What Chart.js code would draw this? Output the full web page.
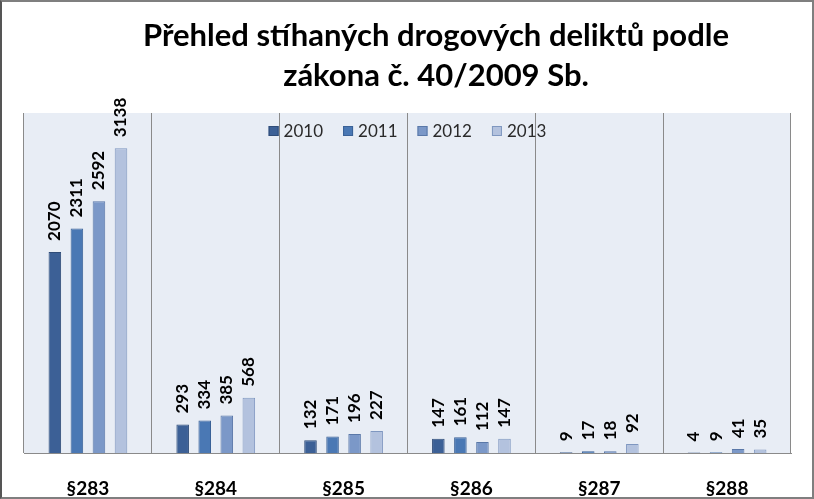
<!DOCTYPE html>
<html>
<head>
<meta charset="utf-8">
<script src="https://cdn.jsdelivr.net/npm/chart.js@4.4.1/dist/chart.umd.min.js"></script>
<style>
  body { margin: 0; background: #fff; }
  #wrap { width: 814px; height: 499px; box-sizing: border-box; border: 2px solid #7f7f7f; border-left-color: #555; }
  canvas { display: block; }
</style>
</head>
<body>
<div id="wrap"><canvas id="chart" width="810" height="495"></canvas></div>
<script>
// data
const categories = ['§283', '§284', '§285', '§286', '§287', '§288'];
const years = ['2010', '2011', '2012', '2013'];
const v2010 = [2070, 293, 132, 147, 9, 4];
const v2011 = [2311, 334, 171, 161, 17, 9];
const v2012 = [2592, 385, 196, 112, 18, 41];
const v2013 = [3138, 568, 227, 147, 92, 35];
const titleLines = ['Přehled stíhaných drogových deliktů podle', 'zákona č. 40/2009 Sb.'];

const colors = ['#3c6096', '#4a78b4', '#7b98c8', '#b3c2de'];
const borders = ['#2f4c78', '#3a6197', '#5a78a8', '#7f97c0'];
const FONT = 'Lato, "Open Sans", sans-serif';

// plot area background
const plotBg = {
    id: 'plotBg',
    beforeDraw(chart) {
        const { ctx, chartArea: a } = chart;
        ctx.save();
        ctx.fillStyle = '#e8edf5';
        ctx.fillRect(a.left, a.top, a.right - a.left, a.bottom - a.top);
        ctx.restore();
    }
};

// title drawn by hand so it can sit a bit right of centre
const titleText = {
    id: 'titleText',
    afterDraw(chart) {
        const ctx = chart.ctx;
        ctx.save();
        ctx.fillStyle = '#000';
        ctx.font = 'bold 31px ' + FONT;
        ctx.textAlign = 'center';
        ctx.textBaseline = 'middle';
        titleLines.forEach((t, i) => ctx.fillText(t, 434, 34 + i * 40));
        ctx.restore();
    }
};

// horizontal legend laid over the top of the plot area
const innerLegend = {
    id: 'innerLegend',
    afterDraw(chart) {
        const { ctx, chartArea: a } = chart;
        const box = 10, gap = 5, pad = 20;
        ctx.save();
        ctx.font = '17px ' + FONT;
        ctx.textBaseline = 'middle';
        const items = chart.data.datasets.map(ds => ({ ds, w: box + gap + ctx.measureText(ds.label).width }));
        const total = items.reduce((s, it) => s + it.w, 0) + pad * (items.length - 1);
        let x = (a.left + a.right) / 2 - total / 2;
        const y = a.top + 18;
        items.forEach(it => {
            ctx.fillStyle = it.ds.backgroundColor;
            ctx.fillRect(x, y - box / 2, box, box);
            ctx.strokeStyle = it.ds.borderColor;
            ctx.lineWidth = 1;
            ctx.strokeRect(x + 0.5, y - box / 2 + 0.5, box - 1, box - 1);
            ctx.fillStyle = '#2a2a2a';
            ctx.fillText(it.ds.label, x + box + gap, y + 1);
            x += it.w + pad;
        });
        ctx.restore();
    }
};

// rotated value labels above the bars
const barLabels = {
    id: 'barLabels',
    afterDatasetsDraw(chart) {
        const ctx = chart.ctx;
        ctx.save();
        ctx.fillStyle = '#000';
        ctx.font = 'bold 17px ' + FONT;
        ctx.textAlign = 'left';
        ctx.textBaseline = 'middle';
        chart.data.datasets.forEach((ds, i) => {
            chart.getDatasetMeta(i).data.forEach((el, j) => {
                ctx.save();
                ctx.translate(el.x, el.y - 11);
                ctx.rotate(-Math.PI / 2);
                ctx.fillText(String(ds.data[j]), 0, 0);
                ctx.restore();
            });
        });
        ctx.restore();
    }
};

const series = [v2010, v2011, v2012, v2013];

new Chart(document.getElementById('chart'), {
    type: 'bar',
    data: {
        labels: categories,
        datasets: years.map((y, i) => ({
            label: y,
            data: series[i],
            backgroundColor: colors[i],
            borderColor: borders[i],
            borderWidth: 1,
            categoryPercentage: 0.69,
            barPercentage: 0.57
        }))
    },
    options: {
        responsive: false,
        animation: false,
        layout: { padding: { top: 111, left: 22, right: 21, bottom: 0 } },
        scales: {
            x: {
                grid: { display: true, offset: true, color: '#8a8a8a', drawTicks: false },
                border: { display: true, color: '#8a8a8a' },
                ticks: { color: '#000', font: { family: FONT, size: 19, weight: 'bold' }, padding: 24 },
                afterFit(scale) { scale.height = 44; }
            },
            y: {
                display: false,
                min: 0,
                max: 3500
            }
        },
        plugins: {
            title: { display: false },
            tooltip: { enabled: false },
            legend: { display: false }
        }
    },
    plugins: [plotBg, titleText, innerLegend, barLabels]
});
</script>
</body>
</html>
